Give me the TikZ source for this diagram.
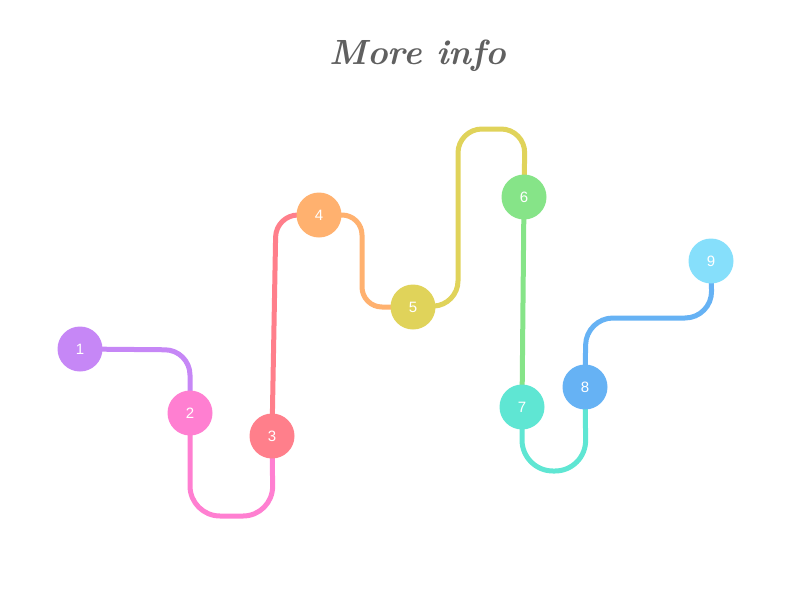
\documentclass[tikz,border=0pt]{standalone}
\usepackage{fontspec}
\newfontfamily\numfont{Liberation Sans}
\definecolor{c1}{HTML}{C687F6}
\definecolor{c2}{HTML}{FF7FD1}
\definecolor{c3}{HTML}{FF7F8B}
\definecolor{c4}{HTML}{FFB16F}
\definecolor{c5}{HTML}{E0D35A}
\definecolor{c6}{HTML}{86E488}
\definecolor{c7}{HTML}{5FE6D3}
\definecolor{c8}{HTML}{66B2F4}
\definecolor{c9}{HTML}{86DFFB}
\definecolor{titlegray}{HTML}{606060}
\begin{document}
\begin{tikzpicture}[x=1pt,y=-1pt,
  dot/.style={circle,minimum size=45pt,inner sep=0pt,fill=#1,text=white,font=\numfont\fontsize{15}{15}\selectfont},
  link/.style={draw=#1,line width=5pt,line cap=round}]
\useasboundingbox (0,0) rectangle (800,600);
\node[font=\fontsize{35}{35}\selectfont\bfseries\itshape,text=titlegray] (title) at (418,56) {More info};
% coordinates for nodes
\coordinate (p1) at (80,349);
\coordinate (p2) at (190,413);
\coordinate (p3) at (272,436);
\coordinate (p4) at (319,215);
\coordinate (p5) at (413,307);
\coordinate (p6) at (524,197);
\coordinate (p7) at (522,407);
\coordinate (p8) at (585,387);
\coordinate (p9) at (711,261);
% connectors
\draw[link=c1,rounded corners=25pt] (p1) -- (190,350) -- (p2);
\draw[link=c2,rounded corners=30pt] (p2) -- (190,516) -- (273,516) -- (p3);
\draw[link=c3,rounded corners=22pt] (p3) -- (276,215) -- (p4);
\draw[link=c4,rounded corners=20pt] (p4) -- (362,215) -- (362,307) -- (p5);
\draw[link=c5,rounded corners=24pt] (p5) -- (458,305) -- (458,129) -- (525,129) -- (p6);
\draw[link=c6] (p6) -- (p7);
\draw[link=c7,rounded corners=31pt] (p7) -- (522,471) -- (586,471) -- (p8);
\draw[link=c8,rounded corners=27pt] (p8) -- (586,318) -- (712,318) -- (p9);
% nodes
\node[dot=c1] (n1) at (p1) {1};
\node[dot=c2] (n2) at (p2) {2};
\node[dot=c3] (n3) at (p3) {3};
\node[dot=c4] (n4) at (p4) {4};
\node[dot=c5] (n5) at (p5) {5};
\node[dot=c6] (n6) at (p6) {6};
\node[dot=c7] (n7) at (p7) {7};
\node[dot=c8] (n8) at (p8) {8};
\node[dot=c9] (n9) at (p9) {9};
\end{tikzpicture}
\end{document}
